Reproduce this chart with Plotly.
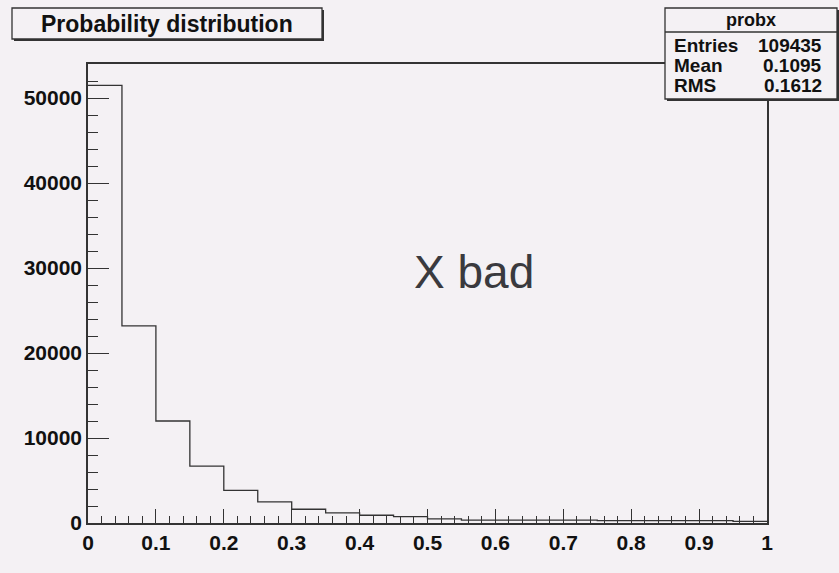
import plotly.graph_objects as go

# ---- data ----
bin_edges = [round(i * 0.05, 2) for i in range(21)]
counts = [51480, 23200, 12000, 6680, 3840, 2480, 1620, 1190, 910, 740,
          480, 340, 340, 340, 340, 270, 270, 270, 270, 190]
x_tick_vals = [0, 0.1, 0.2, 0.3, 0.4, 0.5, 0.6, 0.7, 0.8, 0.9, 1]
x_tick_text = ["0", "0.1", "0.2", "0.3", "0.4", "0.5", "0.6", "0.7", "0.8", "0.9", "1"]
y_tick_vals = [0, 10000, 20000, 30000, 40000, 50000]
y_tick_text = ["0", "10000", "20000", "30000", "40000", "50000"]
title_text = "Probability distribution"
stats_name = "probx"
stats_labels = ["Entries", "Mean", "RMS"]
stats_values = ["109435", "0.1095", "0.1612"]
overlay_text = "X bad"

BG = "#f4f1f4"
INK = "#333333"
FONT = "Liberation Sans, Arial, sans-serif"

W, H = 839, 573
L, R, T, B = 88, 72, 64, 50
PW, PH = W - L - R, H - T - B


def px(x):
    return (x - L) / PW


def py(y):
    return (H - B - y) / PH


hx = bin_edges
hy = counts + [counts[-1]]

fig = go.Figure()
fig.add_trace(go.Scatter(x=hx, y=hy, mode="lines", line=dict(shape="hv", color=INK, width=1.3),
                         hoverinfo="skip", showlegend=False))

tickfont = dict(family=FONT, size=21, color="#111111", weight="bold")
fig.update_layout(
    width=W, height=H,
    margin=dict(l=L, r=R, t=T, b=B, pad=0),
    paper_bgcolor=BG, plot_bgcolor=BG,
    showlegend=False,
    xaxis=dict(range=[0, 1], tickvals=x_tick_vals, ticktext=x_tick_text,
               ticks="inside", ticklen=14, tickwidth=1.3, tickcolor=INK,
               minor=dict(ticks="inside", ticklen=7, tickwidth=1.3, tickcolor=INK, dtick=0.02, showgrid=False),
               showline=True, mirror=True, linecolor=INK, linewidth=1.5,
               showgrid=False, zeroline=False, tickfont=tickfont),
    yaxis=dict(range=[0, 54000], tickvals=y_tick_vals, ticktext=y_tick_text,
               ticks="inside", ticklen=21, tickwidth=1.3, tickcolor=INK,
               minor=dict(ticks="inside", ticklen=10, tickwidth=1.3, tickcolor=INK, dtick=2000, showgrid=False),
               showline=True, mirror=True, linecolor=INK, linewidth=1.5,
               showgrid=False, zeroline=False, tickfont=tickfont),
)

shapes = []
# title box with shadow
shapes.append(dict(type="rect", xref="paper", yref="paper", layer="above",
                   x0=px(14), x1=px(324), y0=py(10), y1=py(41),
                   fillcolor=INK, line=dict(width=0)))
shapes.append(dict(type="rect", xref="paper", yref="paper", layer="above",
                   x0=px(12), x1=px(322), y0=py(8), y1=py(39),
                   fillcolor=BG, line=dict(color=INK, width=1.3)))
# stats box with shadow
shapes.append(dict(type="rect", xref="paper", yref="paper", layer="above",
                   x0=px(667), x1=px(839), y0=py(10), y1=py(101),
                   fillcolor=INK, line=dict(width=0)))
shapes.append(dict(type="rect", xref="paper", yref="paper", layer="above",
                   x0=px(665), x1=px(837), y0=py(8), y1=py(99),
                   fillcolor=BG, line=dict(color=INK, width=1.3)))
shapes.append(dict(type="line", xref="paper", yref="paper", layer="above",
                   x0=px(665), x1=px(837), y0=py(32), y1=py(32),
                   line=dict(color=INK, width=1.3)))
fig.update_layout(shapes=shapes)

ann = []
ann.append(dict(text=title_text, xref="paper", yref="paper", x=px(167), y=py(24),
                xanchor="center", yanchor="middle", showarrow=False,
                font=dict(family=FONT, size=23, color="#111111", weight="bold")))
ann.append(dict(text=stats_name, xref="paper", yref="paper", x=px(751), y=py(20),
                xanchor="center", yanchor="middle", showarrow=False,
                font=dict(family=FONT, size=18, color="#111111", weight="bold")))
row_y = [45, 66, 86]
for lab, val, yy in zip(stats_labels, stats_values, row_y):
    ann.append(dict(text=lab, xref="paper", yref="paper", x=px(672), y=py(yy),
                    xanchor="left", yanchor="middle", showarrow=False,
                    font=dict(family=FONT, size=19, color="#111111", weight="bold")))
    ann.append(dict(text=val, xref="paper", yref="paper", x=px(824), y=py(yy),
                    xanchor="right", yanchor="middle", showarrow=False,
                    font=dict(family=FONT, size=19, color="#111111", weight="bold")))
ann.append(dict(text=overlay_text, xref="paper", yref="paper", x=px(474), y=py(272),
                xanchor="center", yanchor="middle", showarrow=False,
                font=dict(family=FONT, size=46, color="#3a3a3e")))
fig.update_layout(annotations=ann)

fig.write_html("out.html")
